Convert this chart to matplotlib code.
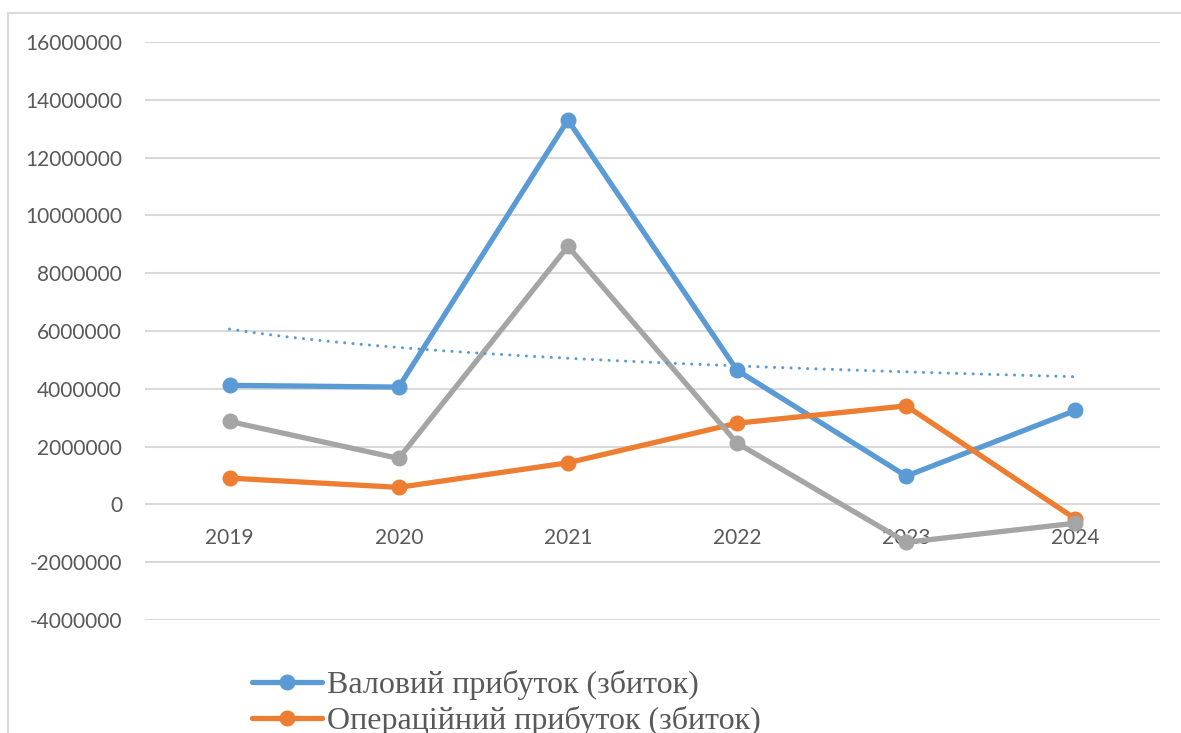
import numpy as np
import matplotlib.pyplot as plt
from matplotlib.lines import Line2D
from matplotlib.patches import Rectangle

# Роки та показники, грн
roky = ['2019', '2020', '2021', '2022', '2023', '2024']
valovyi = [4120000, 4060000, 13300000, 4640000, 980000, 3250000]
operatsiinyi = [910000, 590000, 1440000, 2810000, 3410000, -500000]
chystyi = [2870000, 1590000, 8930000, 2120000, -1310000, -650000]
nazvy = ['Валовий прибуток (збиток)',
         'Операційний прибуток (збиток)',
         'Чистий прибуток (збиток)']
yticks = np.arange(-4000000, 16000001, 2000000)

BLUE, ORANGE, GRAY = '#5B9BD5', '#ED7D31', '#A5A5A5'
GRID = '#D9D9D9'
TXT = '#595959'

W, H = 1181, 733
fig = plt.figure(figsize=(W / 100, H / 100), dpi=100)
ax = fig.add_axes([145 / W, 1 - 620 / H, (1160 - 145) / W, 578 / H])

x = np.arange(len(roky))
kw = dict(lw=3.8, marker='o', ms=10.5, solid_capstyle='round', zorder=3)
l1, = ax.plot(x, valovyi, color=BLUE, **kw)
l2, = ax.plot(x, operatsiinyi, color=ORANGE, **kw)
l3, = ax.plot(x, chystyi, color=GRAY, **kw)

# логарифмічний тренд валового прибутку
t = np.arange(1, len(roky) + 1)
b, a = np.polyfit(np.log(t), valovyi, 1)
tt = np.linspace(1, len(roky), 200)
ax.plot(tt - 1, a + b * np.log(tt), color=BLUE, lw=2.2,
        ls=(0, (0.01, 2.7)), dash_capstyle='round', zorder=4)

ax.set_xlim(-0.5, len(roky) - 0.5)
ax.set_ylim(-4000000, 16000000)
ax.set_yticks(yticks)
ax.set_yticklabels([str(v) for v in yticks])
ax.set_xticks(x)
ax.set_xticklabels(roky)
ax.grid(axis='y', color=GRID, lw=1.5)
ax.set_axisbelow(True)
for s in ['top', 'right', 'left']:
    ax.spines[s].set_visible(False)
ax.spines['bottom'].set_position(('data', 0))
ax.spines['bottom'].set_visible(False)
ax.tick_params(axis='both', length=0, labelsize=15, labelcolor=TXT)
ax.tick_params(axis='y', pad=16.5)
ax.tick_params(axis='x', pad=17)
for lab in ax.get_xticklabels() + ax.get_yticklabels():
    lab.set_fontfamily('Lato')

# рамка області діаграми
fig.patches.append(Rectangle((8 / W, -0.2), 1.2, 1.2 - 12.5 / H,
                             transform=fig.transFigure, fill=False,
                             ec=GRID, lw=1.5))

handles = [Line2D([], [], color=c, lw=3.8, marker='o', ms=10.5,
                  solid_capstyle='round') for c in (BLUE, ORANGE, GRAY)]
fig.legend(handles, nazvy, loc='upper left',
           bbox_to_anchor=(252 / W, 1 - 670 / H),
           frameon=False, handlelength=2.2, handletextpad=0.15,
           labelspacing=0.2, borderaxespad=0, borderpad=0,
           prop={'family': 'Liberation Serif', 'size': 23},
           labelcolor=TXT)

fig.savefig('out.png', dpi=100)
